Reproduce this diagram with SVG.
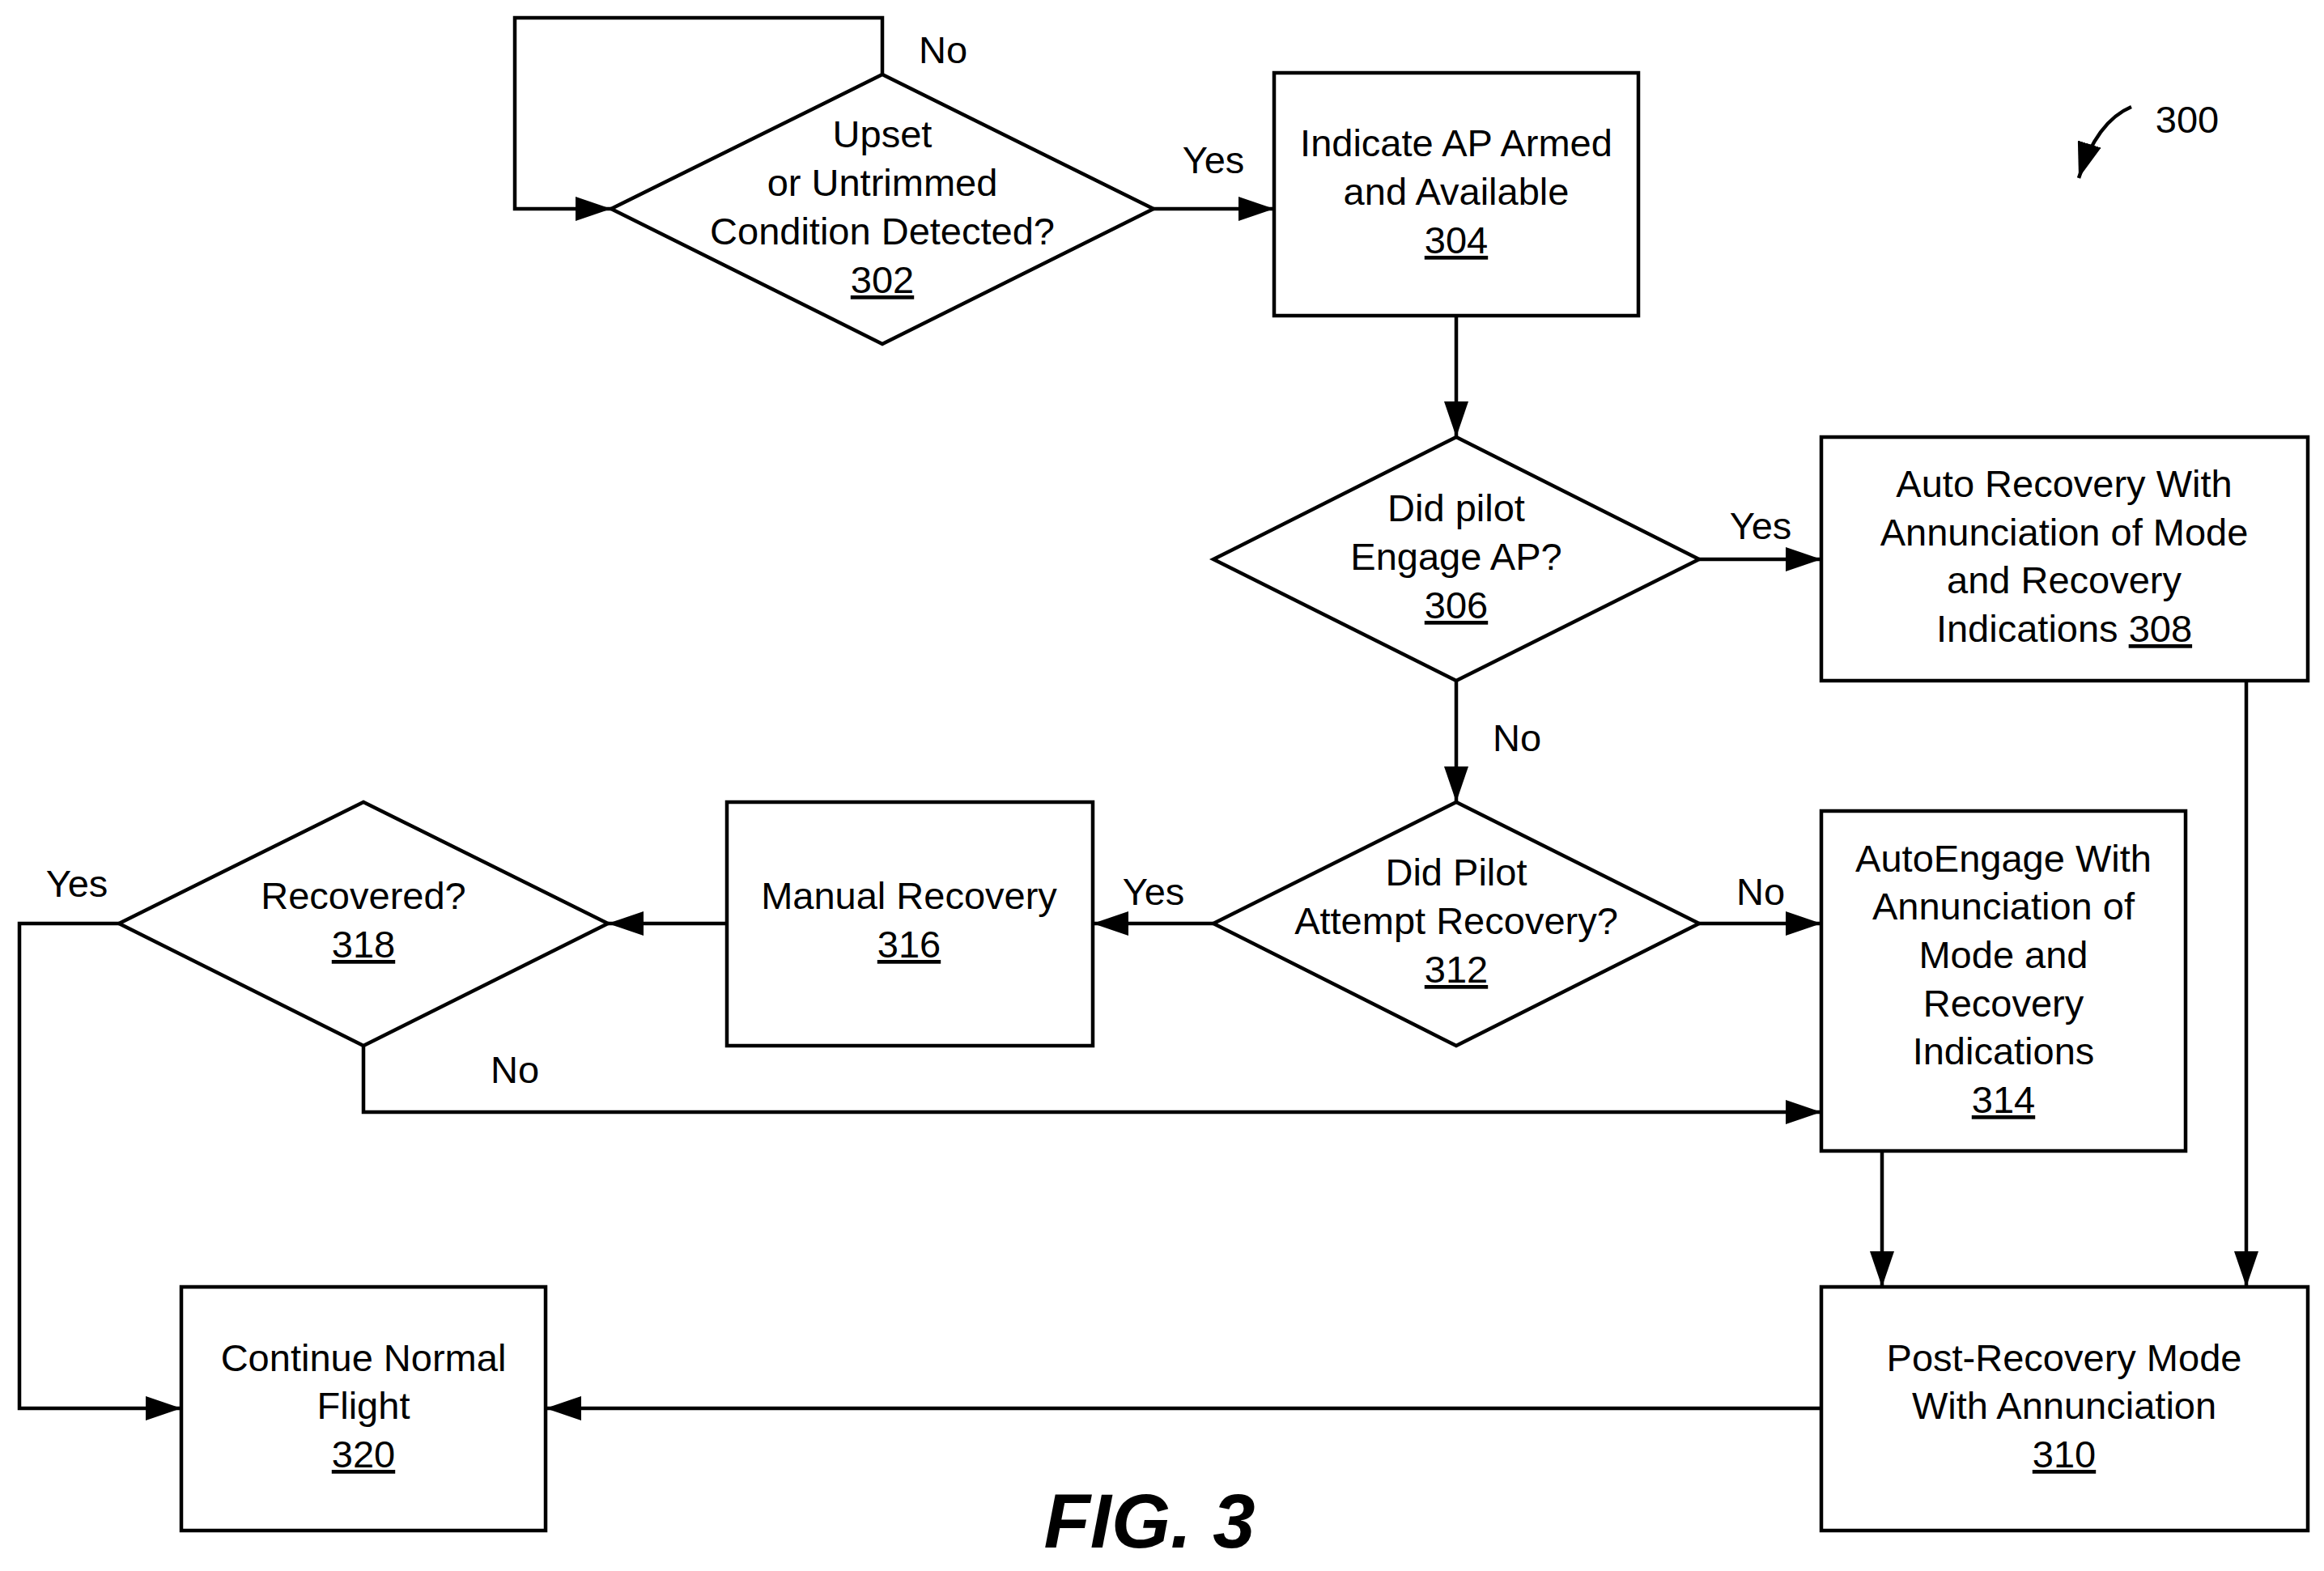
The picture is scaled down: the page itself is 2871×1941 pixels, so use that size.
<svg xmlns="http://www.w3.org/2000/svg" width="2871" height="1941" viewBox="0 0 2871 1941">
<style>
.s{fill:#fff;stroke:#000;stroke-width:4.5}
.c{fill:none;stroke:#000;stroke-width:4.5}
text{font-family:"Liberation Sans",Arial,sans-serif;font-size:47px;text-anchor:middle;fill:#000}
.u{text-decoration:underline}
.l{text-anchor:start}
</style>
<defs><marker id="a" viewBox="0 0 10 10" refX="10" refY="5" markerWidth="10" markerHeight="10" markerUnits="userSpaceOnUse" orient="auto"><path d="M0,0L10,5L0,10z" transform="scale(1)"/></marker>
<marker id="b" viewBox="0 0 44 30" refX="44" refY="15" markerWidth="44" markerHeight="30" markerUnits="userSpaceOnUse" orient="auto"><path d="M0,0L44,15L0,30z"/></marker></defs>
<rect width="2871" height="1941" fill="#fff"/>
<g id="connectors">
<path class="c" d="M1090,92V22H636V258H755" marker-end="url(#b)"/>
<path class="c" d="M1425,258H1574" marker-end="url(#b)"/>
<path class="c" d="M1799,390V540" marker-end="url(#b)"/>
<path class="c" d="M2099,691H2250" marker-end="url(#b)"/>
<path class="c" d="M1799,841V991" marker-end="url(#b)"/>
<path class="c" d="M2775,841V1590" marker-end="url(#b)"/>
<path class="c" d="M2099,1141H2250" marker-end="url(#b)"/>
<path class="c" d="M1499,1141H1350" marker-end="url(#b)"/>
<path class="c" d="M898,1141H751" marker-end="url(#b)"/>
<path class="c" d="M147,1141H24V1740H224" marker-end="url(#b)"/>
<path class="c" d="M449,1292V1374H2250" marker-end="url(#b)"/>
<path class="c" d="M2325,1422V1590" marker-end="url(#b)"/>
<path class="c" d="M2250,1740H674" marker-end="url(#b)"/>
<path class="c" d="M2633,132Q2590,150 2568,220" marker-end="url(#b)"/>
<text x="1165" y="78">No</text>
<text x="1499" y="214">Yes</text>
<text x="2175" y="666">Yes</text>
<text x="1874" y="928">No</text>
<text x="2175" y="1118">No</text>
<text x="1425" y="1118">Yes</text>
<text x="95" y="1108">Yes</text>
<text x="636" y="1338">No</text>
</g>
<g id="n302"><path class="s" d="M755,258L1090,92L1425,258L1090,425z"/>
<text x="1090" y="182">Upset</text><text x="1090" y="242">or Untrimmed</text><text x="1090" y="302">Condition Detected?</text><text class="u" x="1090" y="362">302</text></g>
<g id="n304"><rect class="s" x="1574" y="90" width="450" height="300"/>
<text x="1799" y="193">Indicate AP Armed</text><text x="1799" y="253">and Available</text><text class="u" x="1799" y="313">304</text></g>
<g id="n306"><path class="s" d="M1499,691L1799,540L2099,691L1799,841z"/>
<text x="1799" y="644">Did pilot</text><text x="1799" y="704">Engage AP?</text><text class="u" x="1799" y="764">306</text></g>
<g id="n308"><rect class="s" x="2250" y="540" width="601" height="301"/>
<text x="2550" y="614">Auto Recovery With</text><text x="2550" y="674">Annunciation of Mode</text><text x="2550" y="733">and Recovery</text><text x="2550" y="793">Indications <tspan class="u">308</tspan></text></g>
<g id="n312"><path class="s" d="M1499,1141L1799,991L2099,1141L1799,1292z"/>
<text x="1799" y="1094">Did Pilot</text><text x="1799" y="1154">Attempt Recovery?</text><text class="u" x="1799" y="1214">312</text></g>
<g id="n314"><rect class="s" x="2250" y="1002" width="450" height="420"/>
<text x="2475" y="1077">AutoEngage With</text><text x="2475" y="1136">Annunciation of</text><text x="2475" y="1196">Mode and</text><text x="2475" y="1256">Recovery</text><text x="2475" y="1315">Indications</text><text class="u" x="2475" y="1375">314</text></g>
<g id="n316"><rect class="s" x="898" y="991" width="452" height="301"/>
<text x="1123" y="1123">Manual Recovery</text><text class="u" x="1123" y="1183">316</text></g>
<g id="n318"><path class="s" d="M147,1141L449,991L751,1141L449,1292z"/>
<text x="449" y="1123">Recovered?</text><text class="u" x="449" y="1183">318</text></g>
<g id="n310"><rect class="s" x="2250" y="1590" width="601" height="301"/>
<text x="2550" y="1694">Post-Recovery Mode</text><text x="2550" y="1753">With Annunciation</text><text class="u" x="2550" y="1813">310</text></g>
<g id="n320"><rect class="s" x="224" y="1590" width="450" height="301"/>
<text x="449" y="1694">Continue Normal</text><text x="449" y="1753">Flight</text><text class="u" x="449" y="1813">320</text></g>
<text x="2702" y="164">300</text>
<text x="1420" y="1912" style="font-size:94px;font-weight:bold;font-style:italic">FIG. 3</text>
</svg>
